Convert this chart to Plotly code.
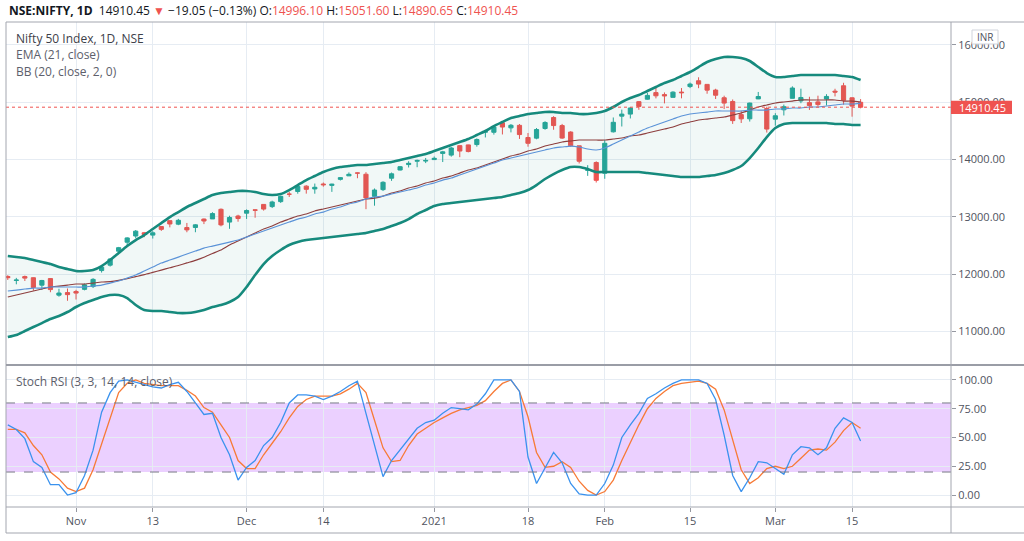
import plotly.graph_objects as go

# ---------------- data ----------------
dates = [
    "2020-10-21", "2020-10-22", "2020-10-23", "2020-10-26", "2020-10-27", "2020-10-28", "2020-10-29", "2020-10-30",
    "2020-11-02", "2020-11-03", "2020-11-04", "2020-11-05", "2020-11-06", "2020-11-09", "2020-11-10", "2020-11-11",
    "2020-11-12", "2020-11-13", "2020-11-14", "2020-11-17", "2020-11-18", "2020-11-19", "2020-11-20", "2020-11-23",
    "2020-11-24", "2020-11-25", "2020-11-26", "2020-11-27",
    "2020-12-01", "2020-12-02", "2020-12-03", "2020-12-04", "2020-12-07", "2020-12-08", "2020-12-09", "2020-12-10",
    "2020-12-11", "2020-12-14", "2020-12-15", "2020-12-16", "2020-12-17", "2020-12-18", "2020-12-21", "2020-12-22",
    "2020-12-23", "2020-12-24", "2020-12-28", "2020-12-29", "2020-12-30", "2020-12-31",
    "2021-01-01", "2021-01-04", "2021-01-05", "2021-01-06", "2021-01-07", "2021-01-08", "2021-01-11", "2021-01-12",
    "2021-01-13", "2021-01-14", "2021-01-15", "2021-01-18", "2021-01-19", "2021-01-20", "2021-01-21", "2021-01-22",
    "2021-01-25", "2021-01-27", "2021-01-28", "2021-01-29",
    "2021-02-01", "2021-02-02", "2021-02-03", "2021-02-04", "2021-02-05", "2021-02-08", "2021-02-09", "2021-02-10",
    "2021-02-11", "2021-02-12", "2021-02-15", "2021-02-16", "2021-02-17", "2021-02-18", "2021-02-19", "2021-02-22",
    "2021-02-23", "2021-02-24", "2021-02-25", "2021-02-26",
    "2021-03-01", "2021-03-02", "2021-03-03", "2021-03-04", "2021-03-05", "2021-03-08", "2021-03-09", "2021-03-10",
    "2021-03-12", "2021-03-15", "2021-03-16",
]

opens = [
    11958, 11890, 11957, 11937, 11807, 11922, 11633, 11678, 11697, 11734,
    11783, 12062, 12156, 12399, 12556, 12664, 12721, 12680, 12829, 12932,
    12871, 12812, 12813, 12960, 12962, 13130, 12907, 13013, 13062, 13121,
    13215, 13177, 13264, 13394, 13441, 13534, 13485, 13571, 13547, 13652,
    13713, 13764, 13741, 13356, 13473, 13672, 13815, 13910, 13968, 13971,
    13997, 14104, 14075, 14240, 14253, 14259, 14474, 14473, 14639, 14550,
    14594, 14382, 14371, 14539, 14730, 14590, 14477, 14237, 13810, 13946,
    13758, 14481, 14754, 14790, 15007, 15050, 15165, 15130, 15082, 15174,
    15270, 15371, 15308, 15209, 15075, 15010, 14781, 14708, 15055, 14888,
    14702, 14865, 15065, 15020, 14990, 15003, 15052, 15190, 15284, 15074,
    14996.10,
]
highs = [
    11981, 11934, 11974, 11942, 11899, 11929, 11744, 11749, 11726, 11836,
    11929, 12131, 12280, 12474, 12643, 12769, 12735, 12749, 12829, 12934,
    12963, 12892, 12870, 12969, 13079, 13145, 13018, 13035, 13128, 13128,
    13216, 13280, 13366, 13435, 13548, 13550, 13579, 13597, 13576, 13693,
    13773, 13771, 13777, 13493, 13619, 13771, 13885, 13968, 13997, 14025,
    14050, 14148, 14216, 14244, 14256, 14367, 14498, 14590, 14653, 14617,
    14617, 14460, 14547, 14666, 14754, 14619, 14491, 14237, 13899, 13967,
    14336, 14731, 14868, 14913, 15015, 15159, 15257, 15168, 15188, 15244,
    15340, 15432, 15314, 15232, 15111, 15045, 14850, 14990, 15176, 14919,
    14806, 14956, 15274, 15233, 15092, 15111, 15137, 15232, 15336, 15081,
    15051.60,
]
lows = [
    11898, 11822, 11880, 11711, 11723, 11684, 11606, 11535, 11557, 11717,
    11757, 12027, 12131, 12367, 12475, 12625, 12644, 12620, 12753, 12815,
    12853, 12730, 12730, 12872, 12962, 12833, 12790, 12914, 12962, 12983,
    13107, 13152, 13241, 13345, 13402, 13403, 13402, 13524, 13434, 13632,
    13713, 13672, 13132, 13193, 13448, 13626, 13808, 13859, 13864, 13936,
    13991, 13954, 14048, 14039, 14123, 14222, 14383, 14432, 14435, 14471,
    14357, 14222, 14351, 14517, 14517, 14358, 14218, 13929, 13713, 13597,
    13662, 14469, 14574, 14714, 14865, 15042, 15064, 14977, 15081, 15065,
    15243, 15242, 15145, 15053, 14878, 14619, 14635, 14660, 15052, 14468,
    14588, 14766, 15065, 14980, 14863, 14919, 14940, 15098, 14954, 14745,
    14890.65,
]
closes = [
    11937, 11896, 11930, 11767, 11889, 11730, 11670, 11642, 11669, 11813,
    11908, 12120, 12263, 12461, 12631, 12749, 12691, 12720, 12780, 12874,
    12938, 12771, 12859, 12926, 13055, 12858, 12987, 12969, 13109, 13113,
    13134, 13258, 13356, 13393, 13529, 13478, 13514, 13558, 13568, 13682,
    13740, 13761, 13328, 13466, 13601, 13749, 13873, 13932, 13982, 13982,
    14019, 14132, 14199, 14146, 14137, 14347, 14485, 14564, 14564, 14595,
    14433, 14281, 14521, 14644, 14590, 14372, 14239, 13968, 13818, 13635,
    14281, 14647, 14790, 14896, 14924, 15116, 15109, 15107, 15173, 15163,
    15314, 15313, 15208, 15119, 14982, 14676, 14707, 14982, 15097, 14529,
    14761, 14919, 15245, 15080, 14938, 14956, 15098, 15174, 15031, 14929.50,
    14910.45,
]

bb_upper = [
    12315, 12297, 12280, 12245, 12210, 12176, 12123, 12088, 12053, 12053,
    12071, 12141, 12245, 12367, 12489, 12594, 12681, 12786, 12890, 12995,
    13082, 13170, 13240, 13309, 13379, 13414, 13431, 13449, 13449, 13431,
    13396, 13379, 13396, 13466, 13553, 13640, 13710, 13780, 13832, 13867,
    13885, 13902, 13902, 13919, 13937, 13954, 13989, 14024, 14059, 14094,
    14146, 14199, 14251, 14303, 14356, 14425, 14495, 14582, 14652, 14722,
    14757, 14792, 14809, 14826, 14826, 14809, 14809, 14792, 14792, 14809,
    14844, 14914, 15001, 15070, 15123, 15193, 15262, 15332, 15384, 15454,
    15524, 15611, 15698, 15751, 15785, 15785, 15768, 15716, 15611, 15506,
    15437, 15437, 15454, 15472, 15472, 15472, 15472, 15472, 15454, 15437,
    15384,
]
bb_lower = [
    10902, 10937, 11007, 11077, 11146, 11216, 11269, 11339, 11426, 11496,
    11548, 11600, 11635, 11635, 11583, 11461, 11373, 11356, 11356, 11339,
    11321, 11321, 11339, 11373, 11426, 11461, 11513, 11600, 11775, 11984,
    12176, 12315, 12420, 12507, 12559, 12594, 12611, 12629, 12646, 12664,
    12681, 12699, 12716, 12751, 12786, 12838, 12890, 12960, 13048, 13117,
    13187, 13222, 13240, 13257, 13274, 13292, 13309, 13326, 13344, 13379,
    13414, 13466, 13553, 13658, 13745, 13815, 13867, 13867, 13832, 13780,
    13780, 13780, 13780, 13780, 13780, 13762, 13745, 13728, 13710, 13693,
    13693, 13693, 13710, 13728, 13762, 13815, 13885, 14024, 14199, 14390,
    14547, 14617, 14635, 14635, 14635, 14635, 14635, 14617, 14617, 14600,
    14600,
]
bb_basis = [
    11600, 11635, 11670, 11705, 11740, 11775, 11792, 11809, 11827, 11827,
    11844, 11862, 11870, 11890, 11920, 11955, 11990, 12030, 12070, 12110,
    12150, 12195, 12240, 12295, 12360, 12420, 12507, 12577, 12646, 12716,
    12786, 12838, 12908, 12960, 13013, 13048, 13100, 13135, 13170, 13205,
    13240, 13274, 13309, 13326, 13361, 13414, 13449, 13501, 13536, 13588,
    13623, 13675, 13710, 13762, 13815, 13850, 13902, 13954, 14007, 14059,
    14094, 14146, 14181, 14233, 14268, 14303, 14321, 14338, 14338, 14338,
    14338, 14356, 14373, 14408, 14425, 14460, 14495, 14530, 14565, 14617,
    14652, 14687, 14704, 14722, 14739, 14774, 14809, 14861, 14914, 14949,
    14983, 15001, 15018, 15036, 15036, 15036, 15036, 15036, 15018, 15018,
    15001,
]
ema21 = [
    11705, 11722, 11740, 11757, 11757, 11775, 11775, 11775, 11775, 11775,
    11792, 11809, 11844, 11879, 11931, 11984, 12053, 12123, 12193, 12245,
    12297, 12350, 12402, 12454, 12489, 12524, 12559, 12594, 12646, 12699,
    12751, 12803, 12856, 12908, 12960, 12995, 13048, 13082, 13135, 13170,
    13222, 13257, 13309, 13344, 13361, 13396, 13431, 13466, 13501, 13553,
    13588, 13640, 13675, 13728, 13780, 13832, 13885, 13937, 13989, 14024,
    14059, 14094, 14129, 14164, 14199, 14216, 14233, 14216, 14181, 14164,
    14199, 14268, 14338, 14408, 14478, 14547, 14600, 14652, 14704, 14757,
    14792, 14809, 14826, 14844, 14844, 14844, 14844, 14861, 14861, 14861,
    14879, 14879, 14896, 14896, 14914, 14914, 14931, 14949, 14966, 14966,
    14983,
]

stoch_k = [
    61, 57, 49, 29, 24, 9, 9, 0, 2, 17,
    39, 72, 89, 99, 100, 98, 96, 94, 93, 96,
    98, 90, 80, 70, 71, 50, 35, 13, 24, 30,
    43, 50, 63, 80, 87, 87, 86, 83, 86, 90,
    95, 99, 71, 43, 16, 30, 39, 48, 58, 63,
    65, 71, 76, 75, 74, 79, 88, 100, 100, 100,
    90, 33, 10, 24, 37, 28, 10, 1, 0, 0,
    10, 26, 50, 61, 71, 84, 88, 93, 97, 100,
    100, 100, 97, 83, 52, 17, 3, 15, 29, 28,
    23, 18, 35, 42, 41, 35, 41, 58, 67, 63,
    47,
]
stoch_d = [
    57, 57, 54, 43, 35, 20, 14, 6, 3, 6,
    22, 45, 67, 89, 97, 100, 97, 96, 95, 95,
    95, 91, 86, 76, 72, 61, 50, 30, 23, 23,
    35, 45, 55, 67, 77, 83, 86, 86, 86, 88,
    92, 97, 89, 65, 41, 29, 30, 43, 53, 58,
    63, 67, 71, 74, 76, 78, 82, 90, 97, 100,
    90, 68, 37, 24, 25, 29, 24, 12, 4, 0,
    3, 13, 30, 46, 61, 75, 84, 90, 95, 97,
    98, 99, 97, 92, 74, 48, 22, 10, 15, 23,
    25, 23, 25, 32, 39, 40, 39, 46, 56, 63,
    58,
]

tick_dates = ["2020-11-02", "2020-11-13", "2020-12-01", "2020-12-14", "2021-01-01",
              "2021-01-18", "2021-02-01", "2021-02-15", "2021-03-01", "2021-03-15"]
tick_labels = ["Nov", "13", "Dec", "14", "2021", "18", "Feb", "15", "Mar", "15"]
price_ticks = [11000, 12000, 13000, 14000, 15000, 16000]
stoch_ticks = [0, 25, 50, 75, 100]

# ---------------- styling ----------------
GREEN = "#26a69a"
RED = "#ef5350"
BAND = "#168a7d"
GRID = "#e6ecf3"
AXIS_TXT = "#50535e"
BORDER = "#a3a6af"
FONT = "Open Sans, sans-serif"

fig = go.Figure()

# Bollinger fill
fig.add_trace(go.Scatter(x=dates, y=bb_upper, mode="lines", line=dict(width=0, color="rgba(0,0,0,0)", shape="spline", smoothing=0.6),
                         hoverinfo="skip", showlegend=False))
fig.add_trace(go.Scatter(x=dates, y=bb_lower, mode="lines", line=dict(width=0, color="rgba(0,0,0,0)", shape="spline", smoothing=0.6),
                         fill="tonexty", fillcolor="rgba(38,150,140,0.065)", hoverinfo="skip", showlegend=False))

# candles
fig.add_trace(go.Candlestick(
    x=dates, open=opens, high=highs, low=lows, close=closes,
    increasing=dict(line=dict(color=GREEN, width=1), fillcolor=GREEN),
    decreasing=dict(line=dict(color=RED, width=1), fillcolor=RED),
    whiskerwidth=0, showlegend=False, hoverinfo="skip",
))

# BB basis and EMA
fig.add_trace(go.Scatter(x=dates, y=bb_basis, mode="lines", line=dict(color="#8e3f3f", width=1.2, shape="spline", smoothing=0.6),
                         hoverinfo="skip", showlegend=False))
fig.add_trace(go.Scatter(x=dates, y=ema21, mode="lines", line=dict(color="#5b93d8", width=1.2, shape="spline", smoothing=0.6),
                         hoverinfo="skip", showlegend=False))
# BB bands
for band in (bb_upper, bb_lower):
    fig.add_trace(go.Scatter(x=dates, y=band, mode="lines", line=dict(color=BAND, width=2.6, shape="spline", smoothing=0.6),
                             hoverinfo="skip", showlegend=False))

# Stoch RSI
fig.add_trace(go.Scatter(x=dates, y=stoch_d, mode="lines", line=dict(color="#f77a36", width=1.3),
                         xaxis="x2", yaxis="y2", hoverinfo="skip", showlegend=False))
fig.add_trace(go.Scatter(x=dates, y=stoch_k, mode="lines", line=dict(color="#3a92ee", width=1.3),
                         xaxis="x2", yaxis="y2", hoverinfo="skip", showlegend=False))

# ---------------- geometry helpers (pixel -> paper) ----------------
L, R, T, B = 6, 951, 22, 507
W, H = R - L, B - T
def px(x):
    return (x - L) / W
def py(y):
    return (B - y) / H
split = py(365)

x_axis = dict(type="category", range=[-0.21, 110.6], tickmode="array", tickvals=tick_dates, ticktext=tick_labels,
              showgrid=True, gridcolor=GRID, gridwidth=1, zeroline=False, showline=False,
              rangeslider=dict(visible=False), fixedrange=True)

fig.update_layout(
    width=1024, height=541, autosize=False,
    margin=dict(l=L, r=1024 - R, t=T, b=541 - B, pad=0),
    paper_bgcolor="white", plot_bgcolor="white",
    showlegend=False, hovermode=False,
    font=dict(family=FONT, size=11, color=AXIS_TXT),
    xaxis=dict(x_axis, domain=[0, 1], anchor="y", showticklabels=False, ticks=""),
    xaxis2=dict(x_axis, domain=[0, 1], anchor="y2", matches="x", showticklabels=True,
                ticks="outside", ticklen=4, tickcolor="#9598a1", tickfont=dict(size=11, color=AXIS_TXT)),
    yaxis=dict(domain=[split, 1], anchor="x", side="right", range=[10415, 16396],
               tickmode="array", tickvals=price_ticks, ticktext=[f"{v:.2f}" for v in price_ticks],
               showgrid=True, gridcolor=GRID, zeroline=False, showline=False,
               ticks="outside", ticklen=4, tickcolor="#9598a1", tickfont=dict(size=11, color=AXIS_TXT), fixedrange=True),
    yaxis2=dict(domain=[0, split], anchor="x2", side="right", range=[-10.4, 113],
                tickmode="array", tickvals=stoch_ticks, ticktext=[f"{v:.2f}" for v in stoch_ticks],
                showgrid=True, gridcolor=GRID, zeroline=False, showline=False,
                ticks="outside", ticklen=4, tickcolor="#9598a1", tickfont=dict(size=11, color=AXIS_TXT), fixedrange=True),
)

last_c = closes[-1]
shapes = [
    # stoch band and levels
    dict(type="rect", xref="paper", yref="y2", x0=0, x1=1, y0=20, y1=80,
         fillcolor="rgba(153,21,255,0.2)", line=dict(width=0), layer="below"),
    dict(type="line", xref="paper", yref="y2", x0=0, x1=1, y0=80, y1=80, line=dict(color="#787b86", width=1, dash="dash")),
    dict(type="line", xref="paper", yref="y2", x0=0, x1=1, y0=20, y1=20, line=dict(color="#787b86", width=1, dash="dash")),
    # last price line
    dict(type="line", xref="paper", yref="y", x0=0, x1=1, y0=last_c, y1=last_c, line=dict(color=RED, width=1, dash="dot")),
    # frame
    dict(type="line", xref="paper", yref="paper", x0=0, x1=px(1024), y0=1, y1=1, line=dict(color=BORDER, width=1)),
    dict(type="line", xref="paper", yref="paper", x0=0, x1=0, y0=1, y1=py(533), line=dict(color=BORDER, width=1)),
    dict(type="line", xref="paper", yref="paper", x0=0, x1=px(1024), y0=py(533), y1=py(533), line=dict(color=BORDER, width=1)),
    dict(type="line", xref="paper", yref="paper", x0=0, x1=px(1024), y0=0, y1=0, line=dict(color=BORDER, width=1)),
    dict(type="line", xref="paper", yref="paper", x0=0, x1=px(1024), y0=split, y1=split, line=dict(color="#9a9da6", width=2)),
    dict(type="line", xref="paper", yref="paper", x0=1, x1=1, y0=1, y1=py(533), line=dict(color=BORDER, width=1)),
    # last price label
    dict(type="rect", xref="paper", yref="y", x0=1.0, x1=px(1012), y0=last_c - 118, y1=last_c + 112,
         fillcolor=RED, line=dict(width=0), layer="above"),
    # INR badge
    dict(type="rect", xref="paper", yref="paper", x0=px(972), x1=px(998), y0=py(44), y1=py(30),
         fillcolor="white", line=dict(color="#d1d4dc", width=1), layer="above"),
]

def fmt(v):
    return ("\u2212" if v < 0 else "+") + f"{abs(v):.2f}"

chg = closes[-1] - closes[-2]
pct = chg / closes[-2] * 100
arrow = "\u25BC" if chg < 0 else "\u25B2"
col = RED if chg < 0 else GREEN
sp = "\u00a0"
header = (f"<b>NSE:NIFTY, 1D</b>{sp}{sp}{closes[-1]:.2f}{sp}<span style='color:{col}'>{arrow}</span>{sp}"
          f"{fmt(chg)} ({fmt(pct)}%){sp}O:<span style='color:{col}'>{opens[-1]:.2f}</span>{sp}"
          f"H:<span style='color:{col}'>{highs[-1]:.2f}</span>{sp}L:<span style='color:{col}'>{lows[-1]:.2f}</span>{sp}"
          f"C:<span style='color:{col}'>{closes[-1]:.2f}</span>")

annotations = [
    dict(text=header, xref="paper", yref="paper", x=px(7), y=py(10), xanchor="left", yanchor="middle",
         showarrow=False, font=dict(family=FONT, size=12, color="#131722")),
    dict(text="Nifty 50 Index, 1D, NSE", xref="paper", yref="paper", x=px(14), y=py(38), xanchor="left", yanchor="middle",
         showarrow=False, font=dict(family=FONT, size=12, color="#3d4049")),
    dict(text="EMA (21, close)", xref="paper", yref="paper", x=px(14), y=py(55), xanchor="left", yanchor="middle",
         showarrow=False, font=dict(family=FONT, size=12, color="#5d606b")),
    dict(text="BB (20, close, 2, 0)", xref="paper", yref="paper", x=px(14), y=py(72), xanchor="left", yanchor="middle",
         showarrow=False, font=dict(family=FONT, size=12, color="#5d606b")),
    dict(text="Stoch RSI (3, 3, 14, 14, close)", xref="paper", yref="paper", x=px(14), y=py(381), xanchor="left", yanchor="middle",
         showarrow=False, font=dict(family=FONT, size=12, color="#5d606b")),
    dict(text=f"{last_c:.2f}", xref="paper", yref="y", x=px(982), y=last_c, xanchor="center", yanchor="middle",
         showarrow=False, font=dict(family=FONT, size=11, color="white")),
    dict(text="INR", xref="paper", yref="paper", x=px(985), y=py(37), xanchor="center", yanchor="middle",
         showarrow=False, font=dict(family=FONT, size=10, color="#50535e")),
]

fig.update_layout(shapes=shapes, annotations=annotations)
fig.write_html("out.html")
